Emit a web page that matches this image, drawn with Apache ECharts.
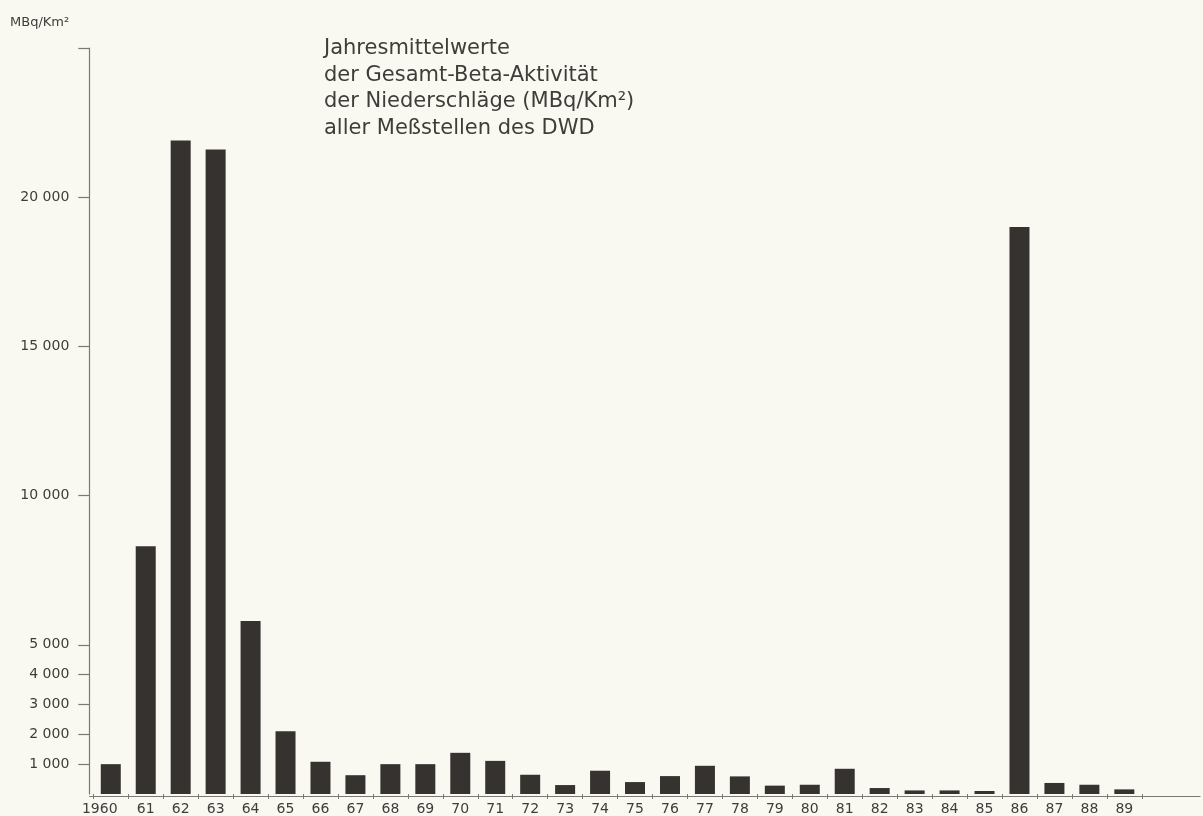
<!DOCTYPE html>
<html>
<head>
<meta charset="utf-8">
<script src="https://cdn.jsdelivr.net/npm/echarts@6/dist/echarts.min.js"></script>
<style>
html,body{margin:0;padding:0;background:#f9f8f1;}
#chart{width:1203px;height:816px;}
</style>
</head>
<body>
<div id="chart"></div>
<script>
var categories = ['1960','61','62','63','64','65','66','67','68','69','70','71','72','73','74','75','76','77','78','79','80','81','82','83','84','85','86','87','88','89'];
var values = [1000,8300,21900,21600,5800,2100,1080,630,1000,1000,1380,1110,645,300,780,400,600,945,590,280,310,845,200,120,120,100,19000,370,310,155];
var yTickValues = [1000,2000,3000,4000,5000,10000,15000,20000,25000];
var yLabelValues = [1000,2000,3000,4000,5000,10000,15000,20000];
var titleLines = ['Jahresmittelwerte','der Gesamt-Beta-Aktivität','der Niederschläge (MBq/Km²)','aller Meßstellen des DWD'];
var unitLabel = 'MBq/Km²';

var textColor = '#3f3d3a';
var axisColor = '#7a7874';
var font = 'DejaVu Sans';

var chart = echarts.init(document.getElementById('chart'), null, {renderer:'canvas'});
chart.setOption({
  backgroundColor: '#f9f8f1',
  animation: false,
  textStyle: {fontFamily: font},
  grid: [
    {left: 93.3, width: 1048.5, top: 48, bottom: 19.3, containLabel: false},
    {left: 89.5, right: 3, top: 48, bottom: 19.3, containLabel: false}
  ],
  xAxis: [
    {
      type: 'category', gridIndex: 0, data: categories, boundaryGap: true,
      axisLine: {show: false},
      axisTick: {show: true, inside: false, length: 5, lineStyle: {color: axisColor, width: 1}},
      axisLabel: {
        interval: 0, margin: 8, color: textColor, fontSize: 14, fontFamily: font,
        formatter: function (v, i) { return i === 0 ? '{f|' + v + '}' : v; },
        rich: {f: {padding: [0, 22, 0, 0], fontSize: 14, color: textColor, fontFamily: font}}
      }
    },
    {
      type: 'value', gridIndex: 1, min: 0, max: 1,
      axisLine: {show: true, onZero: false, lineStyle: {color: axisColor, width: 1.2}},
      axisTick: {show: false}, axisLabel: {show: false}, splitLine: {show: false}
    }
  ],
  yAxis: [
    {
      type: 'value', gridIndex: 0, min: 0, max: 25000, interval: 1000, offset: 4,
      axisLine: {show: true, lineStyle: {color: axisColor, width: 1.2}},
      axisTick: {show: true, inside: false, length: 11, customValues: yTickValues, lineStyle: {color: axisColor, width: 1.2}},
      axisLabel: {
        show: true, margin: 20, color: textColor, fontSize: 14, fontFamily: font,
        customValues: yLabelValues,
        formatter: function (v) { return String(v).replace(/\B(?=(\d{3})+(?!\d))/g, ' '); }
      },
      splitLine: {show: false}
    },
    {type: 'value', gridIndex: 1, show: false, min: 0, max: 1}
  ],
  graphic: [
    {type: 'text', left: 10, top: 16, style: {text: unitLabel, fontSize: 13, fontFamily: font, fill: textColor}},
    {type: 'text', left: 324, top: 35, style: {text: titleLines.join('\n'), fontSize: 21, lineHeight: 26.7, fontFamily: font, fill: textColor}}
  ],
  series: [
    {
      type: 'bar', xAxisIndex: 0, yAxisIndex: 0, data: values, barWidth: 20,
      itemStyle: {color: '#36322f'}
    }
  ]
});
</script>
</body>
</html>
